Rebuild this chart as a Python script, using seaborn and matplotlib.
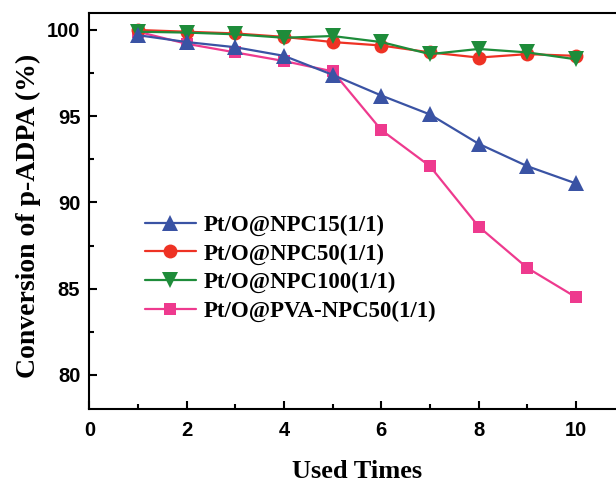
import seaborn as sns
import matplotlib.pyplot as plt
import pandas as pd

# Reuse cycles
used_times = [1, 2, 3, 4, 5, 6, 7, 8, 9, 10]
npc15 = [99.7, 99.3, 99.0, 98.5, 97.4, 96.2, 95.1, 93.4, 92.1, 91.1]
npc50 = [100.0, 99.9, 99.8, 99.6, 99.3, 99.1, 98.7, 98.4, 98.6, 98.5]
npc100 = [99.9, 99.85, 99.75, 99.55, 99.65, 99.3, 98.6, 98.9, 98.7, 98.3]
pva_npc50 = [99.9, 99.2, 98.7, 98.2, 97.6, 94.2, 92.1, 88.6, 86.2, 84.5]

labels = ["Pt/O@NPC15(1/1)", "Pt/O@NPC50(1/1)",
          "Pt/O@NPC100(1/1)", "Pt/O@PVA-NPC50(1/1)"]
series = [npc15, npc50, npc100, pva_npc50]
colors = ["#3A53A4", "#EE3224", "#1E8C3A", "#EE3A8E"]
markers = ["^", "o", "v", "s"]
msizes = [11, 10, 11, 8.5]

dfs = []
for lab, vals in zip(labels, series):
    dfs.append(pd.DataFrame({"Used Times": used_times, "conv": vals, "Sample": lab}))
df = pd.concat(dfs, ignore_index=True)

sns.set_theme(style="ticks")
plt.rcParams["font.family"] = ["Liberation Sans", "DejaVu Sans"]
plt.rcParams["font.weight"] = "bold"
for k in ["text.color", "axes.labelcolor", "xtick.color", "ytick.color", "axes.edgecolor"]:
    plt.rcParams[k] = "black"

fig = plt.figure(figsize=(6.16, 4.83), dpi=100)
ax = fig.add_axes([0.145, 0.1526, 0.869, 0.821])

# draw pink first so the others sit on top
order = [3, 1, 2, 0]
for i in order:
    sub = df[df["Sample"] == labels[i]]
    sns.lineplot(data=sub, x="Used Times", y="conv", ax=ax, color=colors[i],
                 marker=markers[i], markersize=msizes[i], markeredgewidth=0,
                 linewidth=1.6, label=labels[i], legend=False)

ax.set_xlim(0, 11)
ax.set_ylim(78, 101)
ax.set_xticks([0, 2, 4, 6, 8, 10])
ax.set_xticks([1, 3, 5, 7, 9], minor=True)
ax.set_yticks([80, 85, 90, 95, 100])
ax.set_yticks([82.5, 87.5, 92.5, 97.5], minor=True)
ax.tick_params(which="major", direction="in", length=6, width=1.5, labelsize=14.5)
ax.tick_params(which="minor", direction="in", length=3.5, width=1.5)
ax.tick_params(axis="x", which="major", pad=8.5)
ax.tick_params(axis="y", which="major", pad=6.5)
for lab in ax.get_xticklabels() + ax.get_yticklabels():
    lab.set_fontweight("bold")
for sp in ax.spines.values():
    sp.set_linewidth(1.5)

serif = ["Liberation Serif", "DejaVu Serif"]
ax.set_xlabel("Used Times", family=serif, weight="bold", size=19, labelpad=14)
ax.set_ylabel("Conversion of p-ADPA (%)", family=serif, weight="bold", size=20, labelpad=4)
ax.yaxis.label.set_y(0.487)

handles, _ = ax.get_legend_handles_labels()
hmap = dict(zip([labels[i] for i in order], handles))
ax.legend([hmap[l] for l in labels], labels, loc="upper left",
          bbox_to_anchor=(0.066, 0.543), frameon=False, handlelength=2.2,
          handletextpad=0.35, labelspacing=0.32,
          prop={"family": serif, "weight": "bold", "size": 16.5})

fig.savefig("out.png", dpi=100)
